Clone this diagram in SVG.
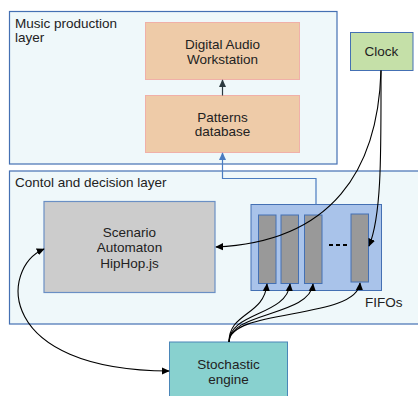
<svg xmlns="http://www.w3.org/2000/svg" width="418" height="396" viewBox="0 0 418 396">
<defs>
<style>
text{font-family:"Liberation Sans",Arial,sans-serif;font-size:13.5px;fill:#222}
.layer{fill:#eff8fa;stroke:#4470b3;stroke-width:1.2}
.peach{fill:#eecba8;stroke:#f0b0a8;stroke-width:1}
.c{text-anchor:middle}
.bar{fill:#999;stroke:#4470b3;stroke-width:1}
.con{fill:none;stroke:#000;stroke-width:1.1}
</style>
<marker id="ah" viewBox="0 0 10 10" refX="9" refY="5" markerWidth="8" markerHeight="8" markerUnits="userSpaceOnUse" orient="auto-start-reverse"><path d="M0,0.5 L10,5 L0,9.5 Z" fill="#000"/></marker>
<marker id="ahd" viewBox="0 0 10 10" refX="9" refY="5" markerWidth="8" markerHeight="8" markerUnits="userSpaceOnUse" orient="auto"><path d="M0,0.5 L10,5 L0,9.5 Z" fill="#2d3a40"/></marker>
<marker id="ahb" viewBox="0 0 10 10" refX="9" refY="5" markerWidth="8" markerHeight="8" markerUnits="userSpaceOnUse" orient="auto"><path d="M0,0.5 L10,5 L0,9.5 Z" fill="#4a7cc0"/></marker>
</defs>
<g id="music-layer">
<rect class="layer" x="9.5" y="11.5" width="327.5" height="152.5"/>
<text x="15" y="27.5">Music production</text>
<text x="15" y="42">layer</text>
</g>
<g id="control-layer">
<rect class="layer" x="9.5" y="171" width="412" height="153"/>
<text x="15" y="187">Contol and decision layer</text>
</g>
<g id="daw">
<rect class="peach" x="145.5" y="22.5" width="154" height="57"/>
<text class="c" x="222.5" y="48.5">Digital Audio</text>
<text class="c" x="222.5" y="63.5">Workstation</text>
</g>
<g id="patterns">
<rect class="peach" x="145.5" y="95.5" width="154" height="57"/>
<text class="c" x="222.5" y="121.5">Patterns</text>
<text class="c" x="222.5" y="136">database</text>
</g>
<g id="clock">
<rect x="350.5" y="32.5" width="62.5" height="38" fill="#c5e0a8" stroke="#4470b3" stroke-width="1"/>
<text class="c" x="381.5" y="56">Clock</text>
</g>
<g id="scenario">
<rect x="44" y="201.5" width="171" height="91" fill="#cccccc" stroke="#6a8fc4" stroke-width="1.2"/>
<text class="c" x="129.5" y="237">Scenario</text>
<text class="c" x="129.5" y="252">Automaton</text>
<text class="c" x="129.5" y="268">HipHop.js</text>
</g>
<g id="fifos">
<rect x="251" y="204.5" width="130.5" height="86" fill="#a9c3ea" stroke="#4470b3" stroke-width="1"/>
<rect class="bar" x="258.5" y="215" width="17.5" height="68.5"/>
<rect class="bar" x="281" y="215" width="17.5" height="68.5"/>
<rect class="bar" x="304.5" y="215" width="17.5" height="68.5"/>
<rect class="bar" x="351" y="214" width="17.5" height="68"/>
<line x1="329" y1="245" x2="348" y2="245" stroke="#000" stroke-width="2" stroke-dasharray="4,3"/>
<text x="365" y="306.5">FIFOs</text>
</g>
<g id="stochastic">
<rect x="169.5" y="342" width="118" height="56" fill="#88d1cf" stroke="#4a86b8" stroke-width="1"/>
<text class="c" x="228.5" y="369">Stochastic</text>
<text class="c" x="228.5" y="384">engine</text>
</g>
<g id="connectors">
<line x1="222.5" y1="95.5" x2="222.5" y2="80" stroke="#2d3a40" stroke-width="1.2" marker-end="url(#ahd)"/>
<path d="M316,204.5 V178.5 H222.5 V153" fill="none" stroke="#4a7cc0" stroke-width="1.2" marker-end="url(#ahb)"/>
<path class="con" d="M381,70.5 C381,150 382,215 369,246" marker-end="url(#ah)"/>
<path class="con" d="M381,70.5 C378,170 332,242 216,247" marker-end="url(#ah)"/>
<path class="con" d="M229,342 C229,312 264,316 267,284" marker-end="url(#ah)"/>
<path class="con" d="M229,342 C229,312 287,316 290,284" marker-end="url(#ah)"/>
<path class="con" d="M229,342 C229,312 310,316 313,284" marker-end="url(#ah)"/>
<path class="con" d="M229,342 C229,308 357,320 360,283" marker-end="url(#ah)"/>
<path class="con" d="M44,249 C0,268 -5,370 169,371" marker-start="url(#ah)" marker-end="url(#ah)"/>
</g>
</svg>
